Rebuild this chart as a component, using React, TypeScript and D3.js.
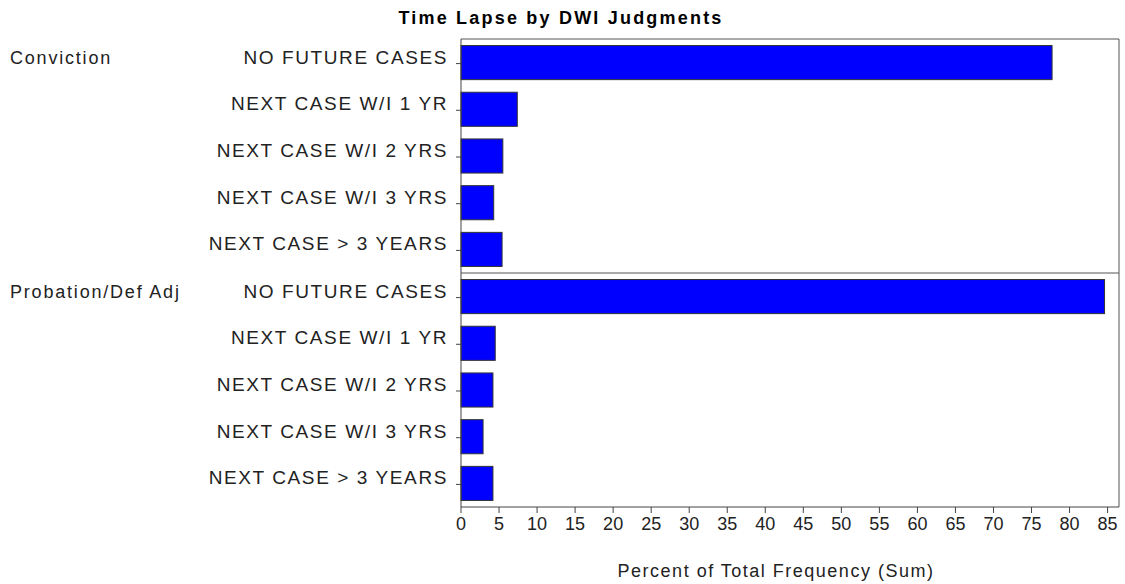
import * as d3 from "d3";
import React from "react";

const groups = ["Conviction", "Probation/Def Adj"];
const categories = [
  "NO FUTURE CASES",
  "NEXT CASE W/I 1 YR",
  "NEXT CASE W/I 2 YRS",
  "NEXT CASE W/I 3 YRS",
  "NEXT CASE > 3 YEARS",
];
const convictionValues = [77.7, 7.4, 5.5, 4.3, 5.4];
const probationValues = [84.6, 4.5, 4.2, 2.9, 4.2];
const xTicks = [0, 5, 10, 15, 20, 25, 30, 35, 40, 45, 50, 55, 60, 65, 70, 75, 80, 85];

const seriesByGroup = [convictionValues, probationValues];

export default function App() {
  const width = 1125;
  const height = 584;
  const margin = { top: 39, right: 6, bottom: 77, left: 461 };
  const plotWidth = width - margin.left - margin.right;
  const plotHeight = height - margin.top - margin.bottom;
  const font = "'Liberation Sans', Arial, sans-serif";

  const xScale = d3.scaleLinear().domain([0, 86.5]).range([0, plotWidth]);

  const groupScale = d3.scaleBand().domain(groups).range([0, plotHeight]);
  const catScale = d3
    .scaleBand()
    .domain(categories)
    .range([0, groupScale.bandwidth()])
    .paddingInner(0.27)
    .paddingOuter(0.14);

  return (
    <svg width={width} height={height} style={{ position: "absolute", left: 0, top: 0 }}>
      <rect width={width} height={height} fill="#fff" />
      <text
        x={561}
        y={24}
        textAnchor="middle"
        fontFamily={font}
        fontWeight="bold"
        fontSize={18}
        letterSpacing={2.2}
        fill="#000"
      >
        Time Lapse by DWI Judgments
      </text>
      <g transform={`translate(${margin.left},${margin.top})`}>
        {groups.map((grp, gi) => {
          const gy = groupScale(grp) as number;
          return (
            <g key={grp} transform={`translate(0,${gy})`}>
              <text
                x={10 - margin.left}
                y={catScale(categories[0])! + catScale.bandwidth() / 2 + 1}
                fontFamily={font}
                fontSize={18}
                letterSpacing={1.8}
                fill="#222"
              >
                {grp}
              </text>
              {categories.map((cat, ci) => {
                const y = catScale(cat) as number;
                const cy = y + catScale.bandwidth() / 2;
                return (
                  <g key={cat}>
                    <rect
                      x={xScale(0)}
                      y={y}
                      width={xScale(seriesByGroup[gi][ci]) - xScale(0)}
                      height={catScale.bandwidth()}
                      fill="#0000ff"
                      stroke="#333"
                      strokeWidth={1}
                    />
                    <line x1={-5} x2={0} y1={cy + 1} y2={cy + 1} stroke="#444" />
                    <text
                      x={-13}
                      y={cy + 1}
                      textAnchor="end"
                      fontFamily={font}
                      fontSize={19}
                      letterSpacing={1.6}
                      fill="#222"
                    >
                      {cat}
                    </text>
                  </g>
                );
              })}
            </g>
          );
        })}
        {/* frame */}
        <line x1={0} x2={plotWidth} y1={0} y2={0} stroke="#555" />
        <line x1={plotWidth} x2={plotWidth} y1={0} y2={plotHeight} stroke="#555" />
        <line
          x1={0}
          x2={plotWidth}
          y1={groupScale(groups[1])}
          y2={groupScale(groups[1])}
          stroke="#555"
        />
        <line x1={0} x2={0} y1={0} y2={plotHeight} stroke="#444" />
        <line x1={0} x2={plotWidth} y1={plotHeight} y2={plotHeight} stroke="#444" />
        {xTicks.map((t) => (
          <g key={t} transform={`translate(${xScale(t)},${plotHeight})`}>
            <line y1={0} y2={6} stroke="#444" />
            <text
              y={23}
              textAnchor="middle"
              fontFamily={font}
              fontSize={18}
              fill="#222"
            >
              {t}
            </text>
          </g>
        ))}
        <text
          x={plotWidth / 2 - 14}
          y={plotHeight + 70}
          textAnchor="middle"
          fontFamily={font}
          fontSize={18}
          letterSpacing={1.5}
          fill="#222"
        >
          Percent of Total Frequency (Sum)
        </text>
      </g>
    </svg>
  );
}
